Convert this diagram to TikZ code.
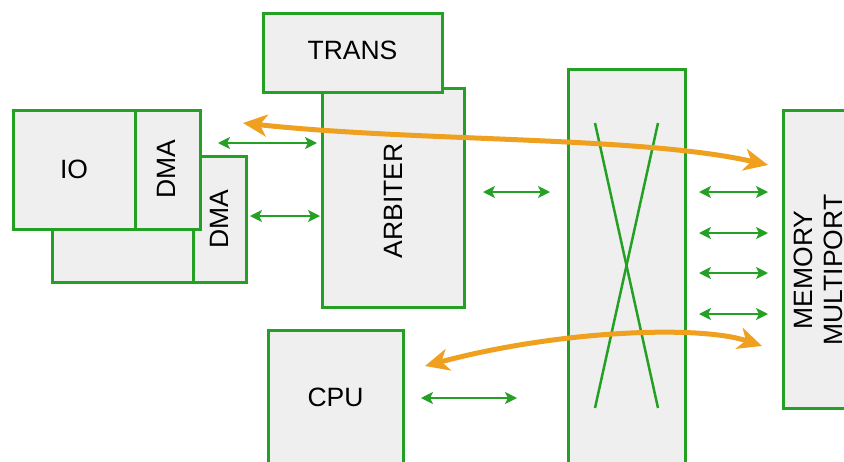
\documentclass[tikz,border=0pt]{standalone}
\usepackage{fontspec}
\setmainfont{Liberation Sans}
\usetikzlibrary{arrows.meta}
\definecolor{gbox}{RGB}{36,160,36}
\definecolor{gfill}{RGB}{239,239,239}
\definecolor{orng}{RGB}{238,160,30}
\tikzset{
  blk/.style={draw=gbox, fill=gfill, line width=3pt, rectangle, inner sep=0pt, outer sep=0pt},
  lbl/.style={font=\fontsize{26.5}{30}\selectfont, align=center, inner sep=0pt},
  garrow/.style={draw=gbox, line width=1.6pt, {Stealth[length=12pt,width=12pt,inset=3pt]}-{Stealth[length=12pt,width=12pt,inset=3pt]}},
  oarrow/.style={draw=orng, line width=5pt, {Stealth[length=24pt,width=22pt,inset=7pt]}-{Stealth[length=24pt,width=22pt,inset=7pt]}},
  xline/.style={draw=gbox, line width=2.5pt}
}
\begin{document}
\begin{tikzpicture}[x=1pt,y=-1pt]
\useasboundingbox (0,0) rectangle (844,461);
\clip (0,0) rectangle (844,461);
% back IO/DMA
\node[blk, minimum width=141pt, minimum height=126pt] (iob) at (122.5,219) {};
\node[blk, minimum width=53pt, minimum height=126pt] (dmab) at (219.5,219) {};
\node[lbl, rotate=90] (dmabt) at (219.5,219) {DMA};
% front IO/DMA
\node[blk, minimum width=122pt, minimum height=119pt] (io) at (74,169.5) {};
\node[lbl] (iot) at (74,169.5) {IO};
\node[blk, minimum width=65pt, minimum height=119pt] (dma) at (167.5,169.5) {};
\node[lbl, rotate=90] (dmat) at (166,169.5) {DMA};
% arbiter and trans
\node[blk, minimum width=142pt, minimum height=219pt] (arb) at (393,197.5) {};
\node[lbl, rotate=90] (arbt) at (393,201) {ARBITER};
\node[blk, minimum width=179pt, minimum height=79pt] (trans) at (352.5,52.5) {};
\node[lbl] (transt) at (352.5,50) {TRANS};
% crossbar
\node[blk, minimum width=117pt, minimum height=406pt] (xbar) at (626.5,272) {};
\coordinate (x1) at (595,123);
\coordinate (x2) at (658,408);
\coordinate (x3) at (658,123);
\coordinate (x4) at (595,408);
\draw[xline] (x1) -- (x2);
\draw[xline] (x3) -- (x4);
% cpu
\node[blk, minimum width=135pt, minimum height=136pt] (cpu) at (335.5,398) {};
\node[lbl] (cput) at (335.5,397) {CPU};
% memory
\node[blk, minimum width=117pt, minimum height=298pt] (mem) at (841.5,259) {};
\node[lbl, rotate=90] (memt) at (818,270) {MEMORY\\MULTIPORT};
% green arrows
\coordinate (a1s) at (218,143); \coordinate (a1e) at (317,143);
\coordinate (a2s) at (250,216); \coordinate (a2e) at (320,216);
\coordinate (a3s) at (483,192); \coordinate (a3e) at (550,192);
\coordinate (a4s) at (421,398); \coordinate (a4e) at (517,398);
\draw[garrow] (a1s) -- (a1e);
\draw[garrow] (a2s) -- (a2e);
\draw[garrow] (a3s) -- (a3e);
\draw[garrow] (a4s) -- (a4e);
\foreach \yy/\nm in {192/m1,233/m2,273/m3,314/m4}{
  \coordinate (\nm s) at (699,\yy);
  \coordinate (\nm e) at (768,\yy);
  \draw[garrow] (\nm s) -- (\nm e);
}
% orange arrows
\coordinate (o1s) at (243,123); \coordinate (o1e) at (768,165);
\coordinate (o2s) at (425,366); \coordinate (o2e) at (762,346);
\draw[oarrow] (o1s) .. controls (420,142) and (640,136) .. (o1e);
\draw[oarrow] (o2s) .. controls (560,330) and (700,325) .. (o2e);
\end{tikzpicture}
\end{document}
